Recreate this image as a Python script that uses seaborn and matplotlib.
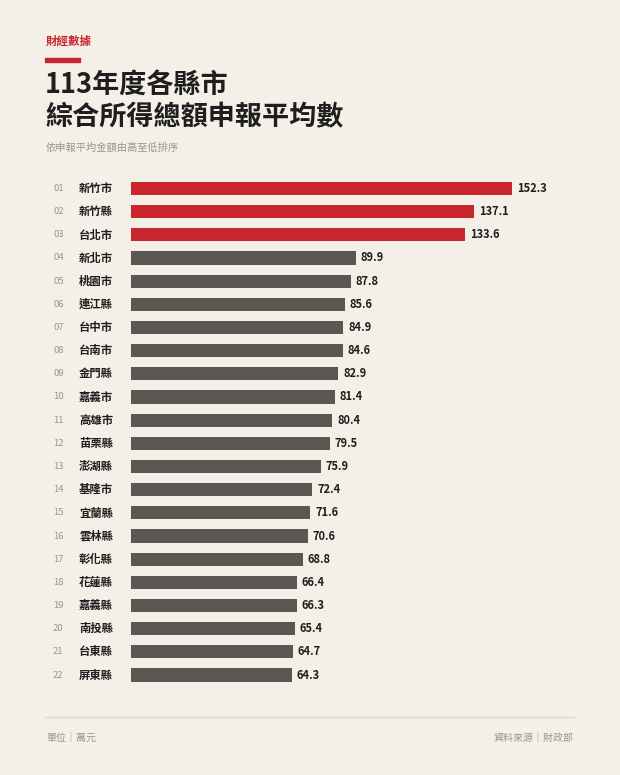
import pandas as pd
import numpy as np
import seaborn as sns
import matplotlib.pyplot as plt
from matplotlib.transforms import blended_transform_factory
plt.switch_backend('agg')

names = ['新竹市', '新竹縣', '台北市', '新北市', '桃園市', '連江縣', '台中市', '台南市',
         '金門縣', '嘉義市', '高雄市', '苗栗縣', '澎湖縣', '基隆市', '宜蘭縣', '雲林縣',
         '彰化縣', '花蓮縣', '嘉義縣', '南投縣', '台東縣', '屏東縣']
values = [152.3, 137.1, 133.6, 89.9, 87.8, 85.6, 84.9, 84.6, 82.9, 81.4, 80.4,
          79.5, 75.9, 72.4, 71.6, 70.6, 68.8, 66.4, 66.3, 65.4, 64.7, 64.3]
ranks = ['%02d' % (i + 1) for i in range(len(names))]

BG = '#F4F0E8'
RED = '#C8262C'
GRAY = '#5A5651'
TXT = '#1E1E1E'
MUTED = '#9A948C'

sns.set_theme(style='white')
plt.rcParams['font.family'] = ['Noto Sans CJK TC', 'DejaVu Sans']

df = pd.DataFrame({'name': names, 'value': values})
df['group'] = ['top' if i < 3 else 'rest' for i in range(len(df))]

W, H = 620, 775
fig = plt.figure(figsize=(6.2, 7.75), dpi=100, facecolor=BG)
ax = fig.add_axes([131 / W, 1 - 686.6 / H, 425 / W, (686.6 - 176.9) / H])
ax.set_facecolor(BG)

sns.barplot(data=df, x='value', y='name', hue='group', palette={'top': RED, 'rest': GRAY},
            dodge=False, width=0.57, legend=False, ax=ax, saturation=1, linewidth=0)
ax.set_xlim(0, 170)
ax.set_ylim(len(df) - 0.5, -0.5)
ax.set_xlabel('')
ax.set_ylabel('')
ax.set_xticks([])
ax.set_yticks([])
sns.despine(ax=ax, left=True, bottom=True)

tr = blended_transform_factory(fig.transFigure, ax.transData)
for i, (r, n, v) in enumerate(zip(ranks, names, values)):
    ax.text(53 / W, i, r, transform=tr, ha='left', va='center', fontsize=6.8, color=MUTED)
    ax.text(79 / W, i, n, transform=tr, ha='left', va='center', fontsize=8.2,
            fontweight='bold', color=TXT)
    ax.text(v + 2, i, '%.1f' % v, ha='left', va='center', fontsize=8,
            fontweight='bold', color=TXT)

# header
fig.text(46 / W, 1 - 41 / H, '財經數據', fontsize=8.3, fontweight='bold', color=RED,
         ha='left', va='center')
fig.add_artist(plt.Rectangle((45 / W, 1 - 61.5 / H), 35 / W, 4 / H, color=RED,
                             transform=fig.transFigure))
fig.text(45 / W, 1 - 85 / H, '113年度各縣市', fontsize=19.5, fontweight='bold', color=TXT,
         ha='left', va='center')
fig.text(45 / W, 1 - 117 / H, '綜合所得總額申報平均數', fontsize=19.5, fontweight='bold',
         color=TXT, ha='left', va='center')
fig.text(46 / W, 1 - 148 / H, '依申報平均金額由高至低排序', fontsize=7.4, color=MUTED,
         ha='left', va='center')

# footer
fig.add_artist(plt.Line2D([45 / W, 574 / W], [1 - 717 / H, 1 - 717 / H], color='#DDD8CC',
                          linewidth=1, transform=fig.transFigure))
fig.text(46 / W, 1 - 739 / H, '單位｜萬元', fontsize=7.2, color=MUTED, ha='left', va='center')
fig.text(574 / W, 1 - 739 / H, '資料來源｜財政部', fontsize=7.2, color=MUTED, ha='right',
         va='center')

plt.savefig('out.png', dpi=100, facecolor=BG)
plt.close()
